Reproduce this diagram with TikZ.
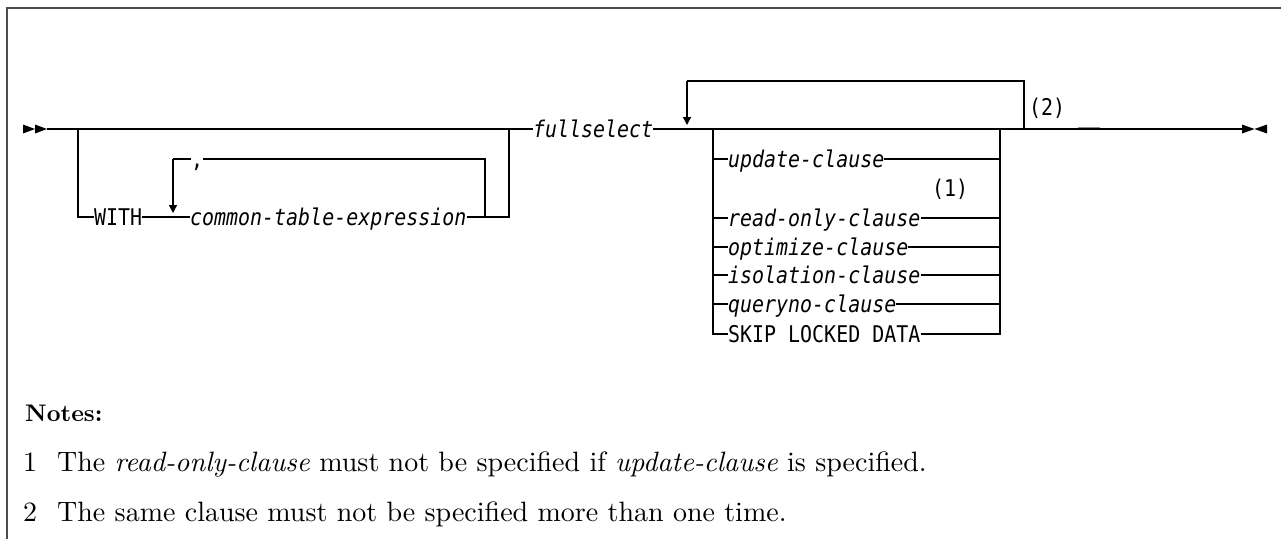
\documentclass[tikz,border=0pt]{standalone}
\usepackage{fontspec}
\usetikzlibrary{arrows.meta}
\newfontfamily\rrfont[FakeStretch=0.867]{DejaVu Sans Mono}
\begin{document}
\begin{tikzpicture}[x=1pt,y=-1pt,
  rr/.style={inner sep=0pt,text height=16pt,text depth=0pt,anchor=west,
    font=\rrfont\fontsize{23pt}{23pt}\selectfont},
  rri/.style={rr,font=\rrfont\itshape\fontsize{23pt}{23pt}\selectfont},
  rail/.style={line width=1.3pt,black},
  looparrow/.style={rail,-{Triangle[width=8pt,length=8pt]},shorten >=4pt},
  frameline/.style={line width=2pt,black!70},
  note/.style={inner sep=0pt,anchor=base west,font=\fontsize{10pt}{12pt}\selectfont}
]
\useasboundingbox (0,0) rectangle (1281,539);
% frame
\draw[frameline] (1281,8) -- (7,8) -- (7,539);

% start and end markers
\fill (23,124.5) -- (35,129) -- (23,133.5) -- cycle;
\fill (35,124.5) -- (47,129) -- (35,133.5) -- cycle;
\fill (1242,124.5) -- (1254.5,129) -- (1242,133.5) -- cycle;
\fill (1267,124.5) -- (1254.5,129) -- (1267,133.5) -- cycle;

% coordinates
\coordinate (s) at (47,129);
\coordinate (j1) at (78,129);
\coordinate (j2) at (509,129);
\coordinate (j2b) at (509,217);
\coordinate (lp) at (173,217);
\coordinate (lptop) at (173,159);
\coordinate (lpr) at (485,217);
\coordinate (ra) at (687,129);
\coordinate (rtop) at (687,81);
\coordinate (rtopR) at (1024,81);
\coordinate (rj) at (1024,129);
\coordinate (cl) at (713,129);
\coordinate (cr) at (1000,129);
\coordinate (e) at (1242,129);

% nodes
\node[rr] (with) at (94,217) {WITH};
\node[rri] (cte) at (190,217) {common-table-expression};
\node[rr] (comma) at (191,159) {,};
\node[rri] (fs) at (533,129) {fullselect};
\node[rri] (uc) at (728,159) {update-clause};
\node[rri] (ro) at (728,218) {read-only-clause};
\node[rri] (oc) at (728,247) {optimize-clause};
\node[rri] (ic) at (728,275) {isolation-clause};
\node[rri] (qc) at (728,304) {queryno-clause};
\node[rr] (sk) at (728,334) {SKIP LOCKED DATA};
\node[rr,anchor=center] (n1lab) at (950,188) {(1)};
\node[rr,anchor=center] (n2lab) at (1047,107) {(2)};

% main line
\draw[rail] (s) -- (j1) -- (j2) -- (fs.west);
\draw[rail] (fs.east) -- (e);
% optional WITH branch
\draw[rail] (j1) |- (with.west);
\draw[rail] (with.east) -- (cte.west);
\draw[rail] (cte.east) -- (j2b) -- (j2);
% repeat loop for common-table-expression
\draw[rail] (lpr) |- (comma.east);
\draw[rail] (comma.west) -- (lptop);
\draw[looparrow] (lptop) -- (lp);
% repeat loop for clauses
\draw[rail] (rj) -- (rtopR) -- (rtop);
\draw[looparrow] (rtop) -- (ra);
% choice group
\foreach \n in {uc,ro,oc,ic,qc,sk}{
  \draw[rail] (cl) |- (\n.west);
  \draw[rail] (\n.east) -| (cr);
}
\draw[black!45,line width=1pt] (1078,127.3) -- (1100,127.3);

% notes
\node[note] (notes) at (25,421) {\scalebox{2.4}{\bfseries Notes:}};
\node[note] (num1) at (23,471) {\scalebox{2.8}{1}};
\node[note] (txt1) at (57,471) {\scalebox{2.8}{The \textit{read-only-clause} must not be specified if \textit{update-clause} is specified.}};
\node[note] (num2) at (23,521) {\scalebox{2.8}{2}};
\node[note] (txt2) at (57,521) {\scalebox{2.8}{The same clause must not be specified more than one time.}};
\end{tikzpicture}
\end{document}
